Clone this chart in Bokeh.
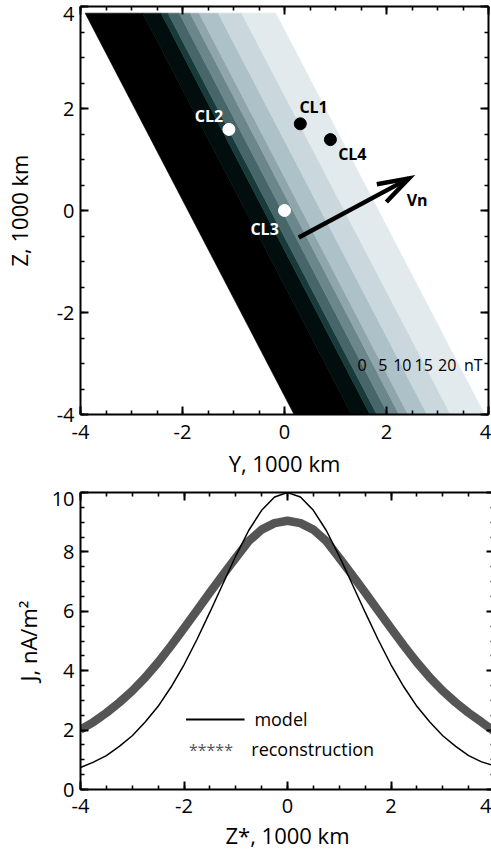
import numpy as np
from bokeh.plotting import figure
from bokeh.layouts import column
from bokeh.models import LinearAxis, FixedTicker, Range1d
from bokeh.core.properties import value
from bokeh.embed import file_html
from bokeh.resources import INLINE

FONT = "Open Sans"

# ---------------------------------------------------------------- data ----
# Upper panel: filled field bands of a planar current sheet in the Y-Z plane
grid_y_lim = [-3.91, 3.92]          # extent of the computed field (1000 km)
grid_z_lim = [-4.0, 3.87]
normal_angle_deg = 27.5             # orientation of the sheet normal in Y-Z
band_edges_n = [-1.68, -0.68, -0.36, -0.24, -0.045, 0.146, 0.302, 0.633, 1.042, 1.633]
band_colors = ["#000000", "#020d0d", "#183a3b", "#47666a", "#6c878c",
               "#8ea6ac", "#adc1c8", "#cad8de", "#e2eaed"]
field_level_labels = ["0", "5", "10", "15", "20", "nT"]

sc_names = ["CL1", "CL2", "CL3", "CL4"]
sc_y = [0.31, -1.09, 0.00, 0.90]
sc_z = [1.70, 1.59, 0.00, 1.39]
sc_fill = ["black", "white", "white", "black"]

vn_start = [0.28, -0.53]
vn_end = [2.44, 0.63]

# Lower panel: current density across the sheet
zstar = [-4.0, -3.75, -3.5, -3.25, -3.0, -2.75, -2.5, -2.25, -2.0, -1.75, -1.5,
         -1.25, -1.0, -0.75, -0.5, -0.25, 0.0, 0.25, 0.5, 0.75, 1.0, 1.25, 1.5,
         1.75, 2.0, 2.25, 2.5, 2.75, 3.0, 3.25, 3.5, 3.75, 4.0]
j_model = [0.74, 0.92, 1.14, 1.45, 1.81, 2.27, 2.80, 3.45, 4.20, 5.05, 5.97,
           6.92, 7.86, 8.72, 9.40, 9.85, 10.0, 9.85, 9.40, 8.72, 7.86, 6.92, 5.97,
           5.05, 4.20, 3.45, 2.80, 2.27, 1.81, 1.45, 1.14, 0.93, 0.80]
j_recon = [2.02, 2.27, 2.58, 2.93, 3.32, 3.77, 4.28, 4.84, 5.43, 6.03, 6.63,
           7.22, 7.80, 8.36, 8.75, 8.97, 9.05, 8.97, 8.75, 8.36, 7.80, 7.22, 6.63,
           6.03, 5.43, 4.84, 4.28, 3.77, 3.32, 2.93, 2.58, 2.27, 1.95]

ticks_pm4 = [-4, -2, 0, 2, 4]
ticks_j = [0, 2, 4, 6, 8, 10]


# ------------------------------------------------------------- helpers ----
def tick_axis(ticks, lo, hi):
    """Axis line with inward major/minor ticks and no labels."""
    minor = list(np.arange(lo, hi + 0.25, 0.5))
    ax = LinearAxis(ticker=FixedTicker(ticks=ticks, minor_ticks=minor))
    ax.axis_line_width = 2
    ax.axis_line_color = "black"
    ax.major_tick_in = 8
    ax.major_tick_out = 0
    ax.minor_tick_in = 4
    ax.minor_tick_out = 0
    ax.major_tick_line_width = 2
    ax.minor_tick_line_width = 1.6
    ax.major_label_text_font_size = "1px"
    ax.major_label_text_color = None
    ax.major_label_standoff = 0
    return ax


def label_axis(ticks, px_per_unit, end_nudge_px, title, standoff, title_standoff):
    """Tick labels (plain hyphen minus) and axis title, no line or tick marks.
    The last label is pulled inward by a few pixels so it stays on the page."""
    pos = [float(t) for t in ticks]
    pos[-1] = pos[-1] - end_nudge_px / px_per_unit
    ax = LinearAxis(ticker=FixedTicker(ticks=pos, minor_ticks=[]))
    ax.axis_line_color = None
    ax.major_tick_line_color = None
    ax.minor_tick_line_color = None
    ax.major_tick_in = 0
    ax.major_tick_out = 0
    ax.minor_tick_in = 0
    ax.minor_tick_out = 0
    ax.major_label_overrides = {p: str(t) for p, t in zip(pos, ticks)}
    ax.major_label_text_font = FONT
    ax.major_label_text_font_size = "20px"
    ax.major_label_text_color = "black"
    ax.major_label_standoff = standoff
    ax.axis_label = title
    ax.axis_label_text_font = FONT
    ax.axis_label_text_font_size = "22px"
    ax.axis_label_text_font_style = "normal"
    ax.axis_label_text_color = "black"
    ax.axis_label_standoff = title_standoff
    return ax


def clip_half_plane(poly, nx, ny, c, keep_above):
    """Keep the part of a polygon where nx*x + ny*y >= c (or <= c)."""
    out = []
    sign = 1.0 if keep_above else -1.0
    for i in range(len(poly)):
        p, q = poly[i], poly[(i + 1) % len(poly)]
        fp = sign * (nx * p[0] + ny * p[1] - c)
        fq = sign * (nx * q[0] + ny * q[1] - c)
        if fp >= 0:
            out.append(p)
        if fp * fq < 0:
            t = fp / (fp - fq)
            out.append((p[0] + t * (q[0] - p[0]), p[1] + t * (q[1] - p[1])))
    return out


# --------------------------------------------------------- upper panel ----
P1_W, P1_H = 408, 408
p1 = figure(frame_width=P1_W, frame_height=P1_H,
            x_range=Range1d(-4, 4), y_range=Range1d(-4, 4),
            min_border_left=79, min_border_right=4,
            min_border_top=6, min_border_bottom=70,
            x_axis_location=None, y_axis_location=None,
            output_backend="svg", toolbar_location=None)
p1.grid.visible = False
p1.outline_line_color = None
p1.background_fill_color = "white"

p1.add_layout(tick_axis(ticks_pm4, -4, 4), "below")
p1.add_layout(label_axis(ticks_pm4, P1_W / 8, 3, "Y, 1000 km", 10, 6), "below")
p1.add_layout(tick_axis(ticks_pm4, -4, 4), "left")
p1.add_layout(label_axis(ticks_pm4, P1_H / 8, 7, "Z, 1000 km", 6, 20), "left")
p1.add_layout(tick_axis(ticks_pm4, -4, 4), "above")
p1.add_layout(tick_axis(ticks_pm4, -4, 4), "right")

theta = np.deg2rad(normal_angle_deg)
nx, ny = np.cos(theta), np.sin(theta)
rect = [(grid_y_lim[0], grid_z_lim[0]), (grid_y_lim[1], grid_z_lim[0]),
        (grid_y_lim[1], grid_z_lim[1]), (grid_y_lim[0], grid_z_lim[1])]
band_xs, band_ys = [], []
for lo, hi in zip(band_edges_n[:-1], band_edges_n[1:]):
    poly = clip_half_plane(rect, nx, ny, lo, True)
    poly = clip_half_plane(poly, nx, ny, hi, False)
    band_xs.append([pt[0] for pt in poly])
    band_ys.append([pt[1] for pt in poly])
p1.patches(band_xs, band_ys, fill_color=band_colors, line_color=band_colors,
           line_width=0.6)

# level labels written across the bands
level_label_x = [1.52, 1.93, 2.31, 2.73, 3.19, 3.70]
p1.text(x=level_label_x, y=[-3.02] * len(field_level_labels), text=field_level_labels,
        text_font=value(FONT), text_font_size=value("16px"), text_color="black",
        text_align="center", text_baseline="middle")

# spacecraft positions
p1.scatter(sc_y, sc_z, marker="circle", size=12, fill_color=sc_fill,
           line_color=sc_fill)
label_dx = [0.26, -0.39, -0.39, 0.43]
label_dz = [0.33, 0.27, -0.37, -0.29]
p1.text(x=[a + b for a, b in zip(sc_y, label_dx)],
        y=[a + b for a, b in zip(sc_z, label_dz)],
        text=sc_names, text_font=value(FONT), text_font_size=value("16px"),
        text_font_style="bold", text_color=["black", "white", "white", "black"],
        text_align="center", text_baseline="middle")

# normal velocity arrow
d = np.array(vn_end) - np.array(vn_start)
d = d / np.hypot(*d)
head_len, head_ang = 0.64, np.deg2rad(18)
arms = []
for s in (1, -1):
    c, sn = np.cos(s * head_ang), np.sin(s * head_ang)
    back = np.array([-d[0] * c + d[1] * sn, -d[0] * sn - d[1] * c])
    arms.append(np.array(vn_end) + head_len * back)
p1.line([vn_start[0], vn_end[0]], [vn_start[1], vn_end[1]], line_color="black",
        line_width=4.5)
p1.line([arms[0][0], vn_end[0], arms[1][0]], [arms[0][1], vn_end[1], arms[1][1]],
        line_color="black", line_width=4.5, line_join="miter")
p1.text(x=[vn_end[0] + 0.16], y=[vn_end[1] - 0.43], text=["Vn"],
        text_font=value(FONT), text_font_size=value("16px"),
        text_font_style="bold", text_color="black",
        text_align="center", text_baseline="middle")

# --------------------------------------------------------- lower panel ----
P2_W, P2_H = 414, 297
p2 = figure(frame_width=P2_W, frame_height=P2_H,
            x_range=Range1d(-4, 4), y_range=Range1d(0, 10),
            min_border_left=76, min_border_right=1,
            min_border_top=8, min_border_bottom=64,
            x_axis_location=None, y_axis_location=None,
            output_backend="svg", toolbar_location=None)
p2.grid.visible = False
p2.outline_line_color = None
p2.background_fill_color = "white"

p2.add_layout(tick_axis(ticks_pm4, -4, 4), "below")
p2.add_layout(label_axis(ticks_pm4, P2_W / 8, 6, "Z*, 1000 km", 9, 4), "below")
p2.add_layout(tick_axis(ticks_j, 0, 10), "left")
p2.add_layout(label_axis(ticks_j, P2_H / 10, 6, "J, nA/m²", 6, 6), "left")
p2.add_layout(tick_axis(ticks_pm4, -4, 4), "above")
p2.add_layout(tick_axis(ticks_j, 0, 10), "right")

p2.line(zstar, j_recon, line_color="#555555", line_width=8.5)
p2.line(zstar, j_model, line_color="black", line_width=1.5)

# legend
p2.line([-1.96, -0.83], [2.36, 2.36], line_color="black", line_width=2)
p2.text(x=[-0.64], y=[2.36], text=["model"], text_font=value(FONT),
        text_font_size=value("18px"), text_color="black",
        text_align="left", text_baseline="middle")
p2.text(x=[-1.48], y=[1.32], text=["*****"], text_font=value(FONT),
        text_font_size=value("16px"), text_color="#555555",
        text_align="center", text_baseline="middle")
p2.text(x=[-0.70], y=[1.38], text=["reconstruction"], text_font=value(FONT),
        text_font_size=value("18px"), text_color="black",
        text_align="left", text_baseline="middle")

layout = column(p1, p2, spacing=0)
open("out.html", "w").write(file_html(layout, INLINE))
